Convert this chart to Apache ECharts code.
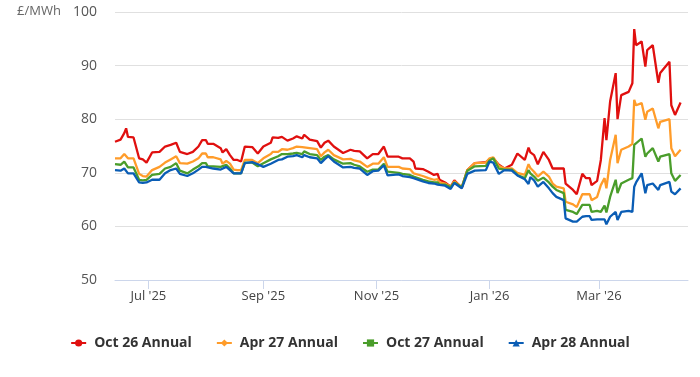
<!DOCTYPE html>
<html>
<head>
<meta charset="utf-8">
<script src="https://cdn.jsdelivr.net/npm/echarts@6/dist/echarts.min.js"></script>
<style>
html, body { margin: 0; padding: 0; background: #fff; }
#main { width: 700px; height: 377px; }
</style>
</head>
<body>
<div id="main"></div>
<script>
// dates
var dates = [
    '2025-06-13', '2025-06-16', '2025-06-18', '2025-06-19', '2025-06-20', '2025-06-23', '2025-06-26', '2025-06-28',
    '2025-06-30', '2025-07-03', '2025-07-07', '2025-07-10', '2025-07-13', '2025-07-16', '2025-07-18', '2025-07-22',
    '2025-07-25', '2025-07-28', '2025-07-30', '2025-08-01', '2025-08-02', '2025-08-05', '2025-08-09', '2025-08-10',
    '2025-08-12', '2025-08-14', '2025-08-16', '2025-08-18', '2025-08-20', '2025-08-22', '2025-08-26', '2025-08-29',
    '2025-09-01', '2025-09-05', '2025-09-06', '2025-09-09', '2025-09-11', '2025-09-14', '2025-09-17', '2025-09-19',
    '2025-09-22', '2025-09-23', '2025-09-26', '2025-09-30', '2025-10-02', '2025-10-04', '2025-10-06', '2025-10-09',
    '2025-10-14', '2025-10-18', '2025-10-20', '2025-10-23', '2025-10-27', '2025-10-30', '2025-11-02', '2025-11-05',
    '2025-11-07', '2025-11-13', '2025-11-15', '2025-11-19', '2025-11-21', '2025-11-22', '2025-11-26', '2025-11-29',
    '2025-12-02', '2025-12-04', '2025-12-05', '2025-12-08', '2025-12-11', '2025-12-13', '2025-12-17', '2025-12-20',
    '2025-12-24', '2025-12-30', '2026-01-01', '2026-01-03', '2026-01-06', '2026-01-09', '2026-01-13', '2026-01-16',
    '2026-01-20', '2026-01-22', '2026-01-23', '2026-01-25', '2026-01-27', '2026-01-30', '2026-02-02', '2026-02-04',
    '2026-02-06', '2026-02-10', '2026-02-11', '2026-02-15', '2026-02-17', '2026-02-20', '2026-02-22', '2026-02-24',
    '2026-02-25', '2026-02-28', '2026-03-02', '2026-03-04', '2026-03-05', '2026-03-07', '2026-03-10', '2026-03-11',
    '2026-03-13', '2026-03-17', '2026-03-19', '2026-03-20', '2026-03-21', '2026-03-24', '2026-03-26', '2026-03-27',
    '2026-03-30', '2026-04-02', '2026-04-03', '2026-04-08', '2026-04-09', '2026-04-11', '2026-04-14'
];

var oct26 = [
    75.8, 76.2, 77.4, 78.3, 76.7, 76.6, 72.7, 72.5, 71.9, 73.8, 73.9, 74.9, 75.2, 75.6, 73.9, 73.5,
    73.9, 74.9, 76.1, 76.1, 75.4, 75.4, 74.6, 73.8, 74.4, 73.3, 72.4, 72.4, 72.1, 74.9, 74.8, 73.6,
    74.9, 75.6, 76.6, 76.5, 76.7, 76.0, 76.4, 76.8, 76.4, 77.1, 76.2, 75.9, 74.7, 75.6, 76.0, 74.9,
    73.7, 74.3, 74.1, 74.0, 72.7, 73.5, 73.5, 74.9, 73.0, 73.0, 72.7, 72.7, 72.1, 70.8, 70.7, 70.2,
    69.6, 69.8, 68.7, 68.2, 67.4, 68.6, 67.2, 70.5, 71.8, 72.0, 72.5, 72.7, 71.5, 70.8, 71.5, 73.6,
    72.4, 74.7, 73.8, 73.3, 71.6, 73.9, 72.4, 70.8, 70.8, 70.8, 68.0, 66.8, 66.0, 69.8, 69.0, 69.0,
    67.7, 68.5, 72.4, 80.2, 76.1, 83.3, 88.6, 80.0, 84.5, 85.1, 86.7, 96.8, 93.8, 94.5, 89.8, 92.9,
    93.8, 86.8, 88.6, 90.7, 82.6, 80.8, 83.1
];

var apr27 = [
    72.7, 72.7, 73.5, 73.8, 72.7, 72.7, 69.8, 69.4, 69.3, 70.5, 71.1, 71.9, 72.5, 73.1, 71.8, 71.7,
    72.1, 72.7, 73.6, 73.6, 72.9, 72.9, 72.5, 71.7, 72.2, 71.7, 70.6, 70.5, 70.5, 72.4, 72.4, 71.8,
    72.7, 73.5, 73.9, 73.9, 74.4, 74.3, 74.6, 74.9, 74.8, 75.0, 74.6, 74.4, 73.1, 73.8, 74.3, 73.3,
    72.5, 72.6, 72.3, 72.1, 71.1, 71.7, 71.7, 72.9, 71.1, 71.1, 70.8, 70.7, 69.9, 69.6, 69.4, 69.0,
    68.7, 68.8, 68.2, 68.0, 67.4, 68.4, 67.3, 70.5, 71.8, 71.9, 72.7, 72.9, 71.3, 70.8, 70.8, 70.0,
    69.6, 71.6, 70.9, 70.2, 69.3, 70.2, 69.3, 68.0, 67.4, 67.1, 64.6, 64.1, 63.6, 66.0, 66.0, 66.0,
    64.9, 65.5, 67.7, 69.0, 67.1, 72.4, 77.1, 71.8, 74.3, 74.9, 75.4, 83.6, 82.6, 83.0, 79.9, 81.4,
    82.0, 78.3, 79.5, 80.0, 74.6, 73.1, 74.3
];

var oct27 = [
    71.6, 71.5, 72.1, 72.3, 71.0, 71.0, 68.7, 68.6, 68.7, 69.6, 69.8, 70.8, 71.1, 71.8, 70.4, 69.9,
    70.6, 71.2, 71.8, 71.8, 71.2, 71.2, 71.1, 70.8, 71.5, 70.8, 69.9, 69.9, 69.9, 71.9, 71.9, 71.2,
    71.8, 72.5, 72.7, 73.1, 73.5, 73.5, 73.6, 73.7, 73.5, 74.0, 73.5, 73.3, 72.4, 73.0, 73.3, 72.5,
    71.7, 71.8, 71.5, 71.2, 70.2, 70.6, 70.6, 71.7, 70.2, 70.0, 69.8, 69.6, 69.3, 69.0, 68.7, 68.4,
    68.2, 68.2, 67.8, 67.8, 67.3, 68.2, 67.3, 70.4, 71.2, 71.3, 72.3, 72.7, 70.8, 70.6, 70.6, 69.6,
    69.0, 70.5, 69.9, 69.3, 68.5, 69.1, 68.2, 67.4, 66.8, 66.2, 63.1, 62.7, 62.3, 64.0, 64.0, 64.0,
    62.7, 62.9, 62.7, 63.9, 62.6, 65.5, 68.7, 66.2, 68.0, 68.7, 69.0, 75.2, 75.0, 76.4, 73.0, 73.6,
    74.6, 72.1, 73.0, 73.5, 69.9, 68.5, 69.6
];

var apr28 = [
    70.5, 70.4, 70.8, 71.1, 69.9, 69.9, 68.2, 68.1, 68.2, 68.7, 68.7, 69.9, 70.5, 70.8, 69.8, 69.4,
    69.9, 70.6, 71.1, 71.1, 70.8, 70.8, 70.6, 70.6, 71.1, 70.5, 69.9, 69.9, 69.9, 71.8, 72.0, 71.6,
    71.1, 71.7, 72.0, 72.4, 72.5, 73.0, 73.1, 73.3, 72.9, 73.3, 72.9, 72.7, 71.8, 72.5, 73.1, 72.1,
    71.0, 71.1, 70.9, 70.8, 69.6, 70.3, 70.4, 71.4, 69.5, 69.7, 69.4, 69.2, 69.0, 68.8, 68.4, 68.1,
    68.0, 67.8, 67.8, 67.6, 67.0, 68.1, 67.1, 69.8, 70.4, 70.5, 72.1, 71.9, 69.8, 70.5, 70.4, 69.5,
    68.8, 67.9, 69.2, 68.6, 67.4, 68.3, 67.1, 66.2, 65.5, 64.9, 61.5, 60.9, 60.9, 61.8, 61.9, 61.9,
    61.2, 61.3, 61.3, 61.3, 60.4, 61.8, 62.7, 61.2, 62.7, 62.9, 62.7, 67.4, 68.2, 69.9, 66.2, 67.7,
    68.0, 66.8, 67.7, 68.3, 66.5, 66.0, 67.1
];

var tickDates = ['2025-07-01', '2025-09-01', '2025-11-01', '2026-01-01', '2026-03-01'];
var tickLabels = ["Jul '25", "Sep '25", "Nov '25", "Jan '26", "Mar '26"];

var seriesNames = ['Oct 26 Annual', 'Apr 27 Annual', 'Oct 27 Annual', 'Apr 28 Annual'];
var seriesValues = [oct26, apr27, oct27, apr28];
var colors = ['#e0100f', '#ff9c2a', '#4a9d2b', '#0a5db5'];
var symbols = ['circle', 'diamond', 'rect', 'triangle'];

function ts(d) {
    var p = d.split('-');
    return Date.UTC(+p[0], +p[1] - 1, +p[2]);
}

var tickTs = tickDates.map(ts);

var myChart = echarts.init(document.getElementById('main'));

var series = seriesNames.map(function (name, i) {
    return {
        name: name,
        type: 'line',
        symbol: symbols[i],
        symbolSize: 8,
        showSymbol: false,
        lineStyle: { width: 2.3 },
        itemStyle: { color: colors[i] },
        emphasis: { disabled: true },
        data: dates.map(function (d, j) { return [ts(d), seriesValues[i][j]]; })
    };
});

option = {
    animation: false,
    color: colors,
    textStyle: { fontFamily: 'Open Sans' },
    grid: {
        left: 115,
        right: 12,
        top: 12,
        bottom: 97
    },
    title: {
        text: '£/MWh',
        left: 12,
        top: 0,
        textStyle: {
            fontSize: 13,
            fontWeight: 'normal',
            color: '#666',
            fontFamily: 'Open Sans'
        }
    },
    legend: {
        bottom: 22,
        left: 'center',
        itemWidth: 15,
        itemHeight: 9,
        itemGap: 24,
        textStyle: {
            fontSize: 14,
            fontWeight: 'bold',
            color: '#333',
            fontFamily: 'Open Sans',
            padding: [0, 0, 0, 3]
        },
        data: seriesNames
    },
    xAxis: {
        type: 'value',
        min: ts('2025-06-13'),
        max: ts('2026-04-18'),
        axisLine: {
            onZero: false,
            lineStyle: { color: '#ccd6eb', width: 1 }
        },
        axisTick: {
            show: true,
            length: 9,
            customValues: tickTs,
            lineStyle: { color: '#ccd6eb' }
        },
        axisLabel: {
            customValues: tickTs,
            margin: 10,
            fontSize: 13,
            color: '#444',
            fontFamily: 'Open Sans',
            formatter: function (val) {
                var k = tickTs.indexOf(val);
                return k >= 0 ? tickLabels[k] : '';
            }
        },
        splitLine: { show: false }
    },
    yAxis: {
        type: 'value',
        min: 50,
        max: 100,
        interval: 10,
        axisLine: { show: false },
        axisTick: { show: false },
        axisLabel: {
            margin: 18,
            fontSize: 14,
            color: '#555',
            fontFamily: 'Open Sans'
        },
        splitLine: {
            lineStyle: { color: '#e0e0e0', width: 1 }
        }
    },
    series: series
};

myChart.setOption(option);
window.onresize = myChart.resize;
</script>
</body>
</html>
